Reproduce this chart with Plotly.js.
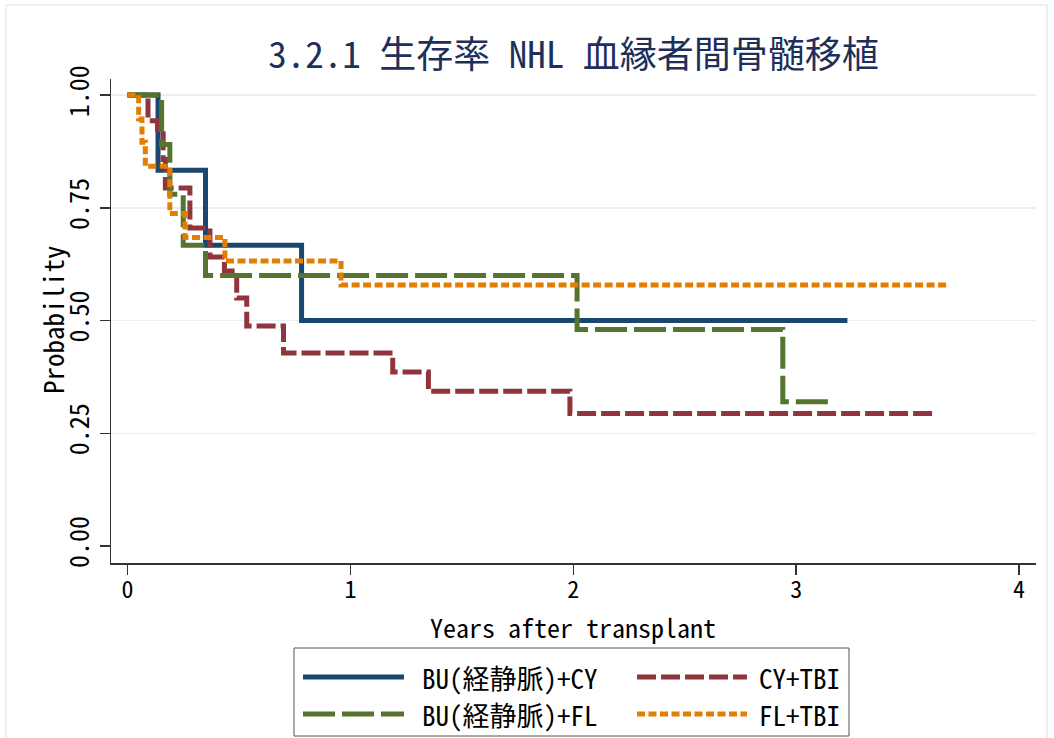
<!DOCTYPE html>
<html>
<head>
<meta charset="utf-8">
<script src="https://cdn.plot.ly/plotly-3.0.1.min.js"></script>
<style>
  html, body { margin: 0; padding: 0; background: #fff; }
  #chart { width: 1054px; height: 738px; }
</style>
</head>
<body>
<div id="chart"></div>
<script>
// ---- data ----
const titleText = "3.2.1 生存率 NHL 血縁者間骨髄移植";
const xTitle = "Years after transplant";
const yTitle = "Probability";

const seriesNames = ["BU(経静脈)+CY", "CY+TBI", "BU(経静脈)+FL", "FL+TBI"];

const buCyTime = [0, 0.137, 0.350, 0.781, 3.23];
const buCySurv = [1.0, 0.833, 0.667, 0.500, 0.500];

const cyTbiTime = [0, 0.092, 0.135, 0.160, 0.170, 0.280, 0.370, 0.435, 0.490, 0.535, 0.700, 1.190, 1.350, 1.985, 3.61];
const cyTbiSurv = [1.0, 0.943, 0.914, 0.857, 0.794, 0.705, 0.641, 0.610, 0.550, 0.488, 0.428, 0.386, 0.343, 0.294, 0.294];

const buFlTime = [0, 0.153, 0.190, 0.250, 0.350, 2.017, 2.940, 3.15];
const buFlSurv = [1.0, 0.890, 0.780, 0.667, 0.600, 0.480, 0.320, 0.320];

const flTbiTime = [0, 0.050, 0.065, 0.080, 0.190, 0.258, 0.437, 0.958, 3.675];
const flTbiSurv = [1.0, 0.947, 0.895, 0.842, 0.737, 0.684, 0.632, 0.579, 0.579];

const xTickVals = [0, 1, 2, 3, 4];
const yTickVals = [0, 0.25, 0.5, 0.75, 1];
const yTickText = ["0.00", "0.25", "0.50", "0.75", "1.00"];

// ---- styles ----
const colors = ["#1a476f", "#90353b", "#55752f", "#e37e00"];
const dashes = ["solid", "19px,5px", "32px,7px", "8px,3.5px"];
const lw = 5;
const monoFont = "'Noto Sans Mono CJK JP', 'Noto Sans CJK JP', 'DejaVu Sans Mono', monospace";

const times = [buCyTime, cyTbiTime, buFlTime, flTbiTime];
const survs = [buCySurv, cyTbiSurv, buFlSurv, flTbiSurv];

const traces = times.map((t, i) => ({
  x: t, y: survs[i], name: seriesNames[i], type: "scatter", mode: "lines",
  line: { shape: "hv", color: colors[i], width: lw, dash: dashes[i] },
  showlegend: false, hoverinfo: "skip"
}));

// plot area in px: x 111..1036, y 79..563
const L = 111, R = 1036, T = 79, B = 563;
const px = v => (v - L) / (R - L);
const py = v => (B - v) / (B - T);

const shapes = [];
const annotations = [];
// outer frame
shapes.push({ type: "rect", xref: "paper", yref: "paper", x0: px(6), x1: px(1047), y0: py(5), y1: py(760),
  line: { color: "#e4edf0", width: 1.5 }, fillcolor: "rgba(0,0,0,0)", layer: "below" });
// legend box
shapes.push({ type: "rect", xref: "paper", yref: "paper", x0: px(294), x1: px(849), y0: py(648), y1: py(736),
  line: { color: "#555", width: 1 }, fillcolor: "#fff" });
const keyPos = [
  { x0: 303, x1: 404, y: 677, tx: 420 },
  { x0: 637, x1: 747, y: 677, tx: 757 },
  { x0: 303, x1: 404, y: 714, tx: 420 },
  { x0: 637, x1: 747, y: 714, tx: 757 }
];
keyPos.forEach((k, i) => {
  shapes.push({ type: "line", xref: "paper", yref: "paper", x0: px(k.x0), x1: px(k.x1), y0: py(k.y), y1: py(k.y),
    line: { color: colors[i], width: lw, dash: dashes[i] } });
  annotations.push({ xref: "paper", yref: "paper", x: px(k.tx), y: py(k.y), xanchor: "left", yanchor: "middle",
    text: seriesNames[i], showarrow: false, font: { family: monoFont, size: 27, color: "#000" } });
});
// axis titles
annotations.push({ xref: "paper", yref: "paper", x: px(573), y: py(626), xanchor: "center", yanchor: "middle",
  text: xTitle, showarrow: false, font: { family: monoFont, size: 26, color: "#000" } });
annotations.push({ xref: "paper", yref: "paper", x: px(52), y: py(320), xanchor: "center", yanchor: "middle",
  textangle: -90, text: yTitle, showarrow: false, font: { family: monoFont, size: 27, color: "#000" } });

const layout = {
  width: 1054, height: 738,
  margin: { l: L, r: 1054 - R, t: T, b: 738 - B, pad: 0 },
  paper_bgcolor: "#fff", plot_bgcolor: "#fff",
  title: { text: titleText, x: 0.5, xref: "paper", xanchor: "center", y: 1 - 55 / 738, yanchor: "middle",
    font: { family: monoFont, size: 37, color: "#1e2f5a" } },
  xaxis: {
    range: [-0.074, 4.076], tickvals: xTickVals, ticktext: xTickVals.map(String),
    showgrid: false, zeroline: false, showline: true, linecolor: "#333", linewidth: 1.5,
    ticks: "outside", ticklen: 10, tickwidth: 1.5, tickcolor: "#333", ticklabelstandoff: -5,
    tickfont: { family: monoFont, size: 24, color: "#000" },
    automargin: false
  },
  yaxis: {
    range: [-0.0377, 1.0355], tickvals: yTickVals, ticktext: yTickText, tickangle: -90,
    showgrid: true, gridcolor: "#e8f0f2", gridwidth: 1.5, zeroline: true, zerolinecolor: "rgba(0,0,0,0)",
    showline: true, linecolor: "#333", linewidth: 1.5,
    ticks: "outside", ticklen: 10, tickwidth: 1.5, tickcolor: "#333",
    tickfont: { family: monoFont, size: 26, color: "#000" },
    automargin: false
  },
  shapes: shapes,
  annotations: annotations,
  showlegend: false
};

Plotly.newPlot("chart", traces, layout, { displayModeBar: false, staticPlot: true });
</script>
</body>
</html>
